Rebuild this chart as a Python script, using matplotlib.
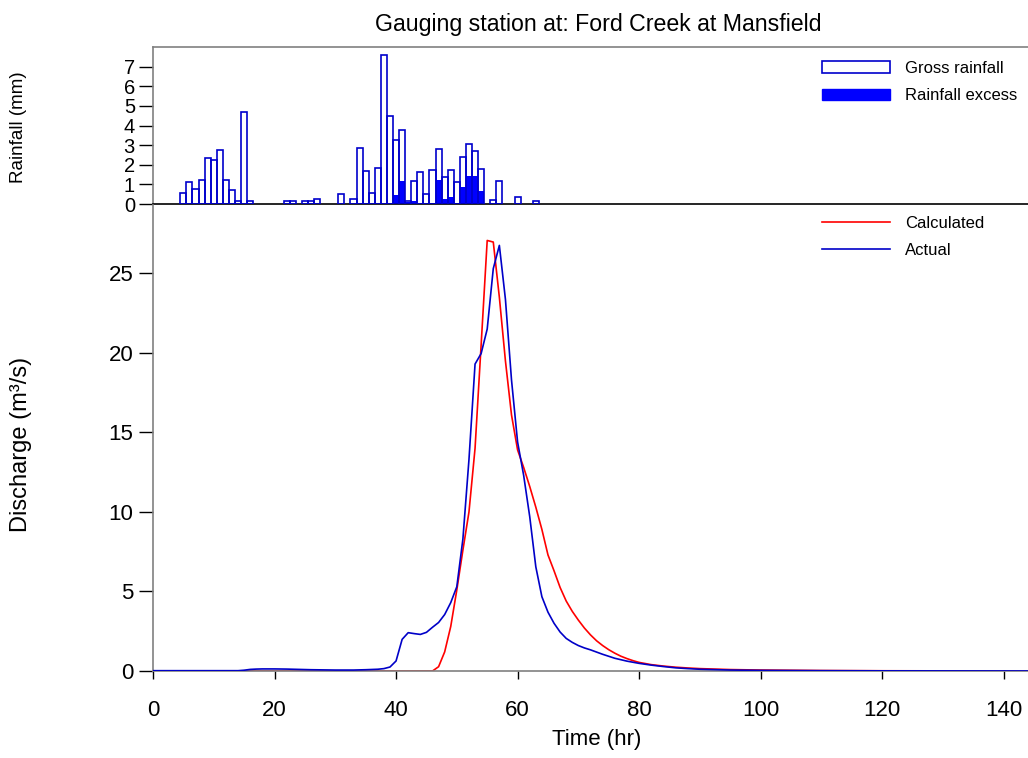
import matplotlib
matplotlib.use('Agg')
import matplotlib.pyplot as plt
from matplotlib.patches import Patch

plt.rcParams['font.family'] = ['Liberation Sans', 'DejaVu Sans']

# ---------------- data ----------------
rain_hours = [5, 6, 7, 8, 9, 10, 11, 12, 13, 14, 15, 16,
              22, 23, 25, 26, 27, 31, 33,
              34, 35, 36, 37, 38, 39, 40, 41, 42, 43, 44, 45, 46, 47, 48, 49, 50, 51, 52, 53, 54,
              56, 57, 60, 63]
gross_rain = [0.54, 1.10, 0.77, 1.24, 2.33, 2.23, 2.74, 1.24, 0.70, 0.14, 4.71, 0.14,
              0.15, 0.15, 0.14, 0.14, 0.24, 0.49, 0.24,
              2.84, 1.67, 0.58, 1.84, 7.57, 4.47, 3.25, 3.78, 0.15, 1.16, 1.62, 0.49, 1.73, 2.81,
              1.36, 1.72, 1.10, 2.40, 3.06, 2.69, 1.79,
              0.20, 1.16, 0.37, 0.15]
excess_hours = [40, 41, 42, 43, 46, 47, 48, 49, 50, 51, 52, 53, 54]
excess_rain = [0.48, 1.16, 0.10, 0.17, 0.05, 1.21, 0.27, 0.37, 0.07, 0.88, 1.45, 1.45, 0.68]

actual_t = [0, 14, 15, 16, 17, 18, 20, 22, 24, 26, 28, 30, 33, 35, 37, 38, 39, 40, 41, 42,
            43, 44, 45, 46, 47, 48, 49, 50, 51, 52, 53, 54, 55, 56, 57, 58, 59, 60, 61, 62,
            63, 64, 65, 66, 67, 68, 69, 70, 71, 72, 74, 76, 78, 80, 82, 84, 86, 88, 90, 95,
            100, 110, 120, 144]
actual_q = [0.02, 0.02, 0.05, 0.10, 0.12, 0.13, 0.13, 0.12, 0.10, 0.08, 0.07, 0.06, 0.06, 0.08,
            0.11, 0.15, 0.25, 0.63, 1.99, 2.41, 2.35, 2.30, 2.43, 2.75, 3.05, 3.55, 4.30, 5.30,
            8.30, 13.3, 19.3, 19.96, 21.5, 25.3, 26.76, 23.37, 18.3, 14.4, 12.3, 9.7, 6.55, 4.67,
            3.7, 3.0, 2.45, 2.05, 1.8, 1.6, 1.45, 1.33, 1.05, 0.80, 0.62, 0.48, 0.37, 0.28, 0.20,
            0.15, 0.11, 0.06, 0.04, 0.02, 0.01, 0.0]

calc_t = [0, 46, 47, 48, 49, 50, 51, 52, 53, 54, 55, 56, 57, 58, 59, 60, 61, 62, 63, 64, 65,
          66, 67, 68, 69, 70, 71, 72, 73, 74, 75, 76, 77, 78, 79, 80, 82, 84, 86, 88, 90, 95,
          100, 110, 120, 144]
calc_q = [0, 0, 0.27, 1.2, 2.8, 5.1, 7.6, 10.0, 14.0, 20.5, 27.07, 26.97, 23.5, 19.5, 16.1,
          13.9, 12.8, 11.6, 10.3, 8.9, 7.3, 6.3, 5.25, 4.4, 3.75, 3.2, 2.7, 2.27, 1.9, 1.6, 1.34,
          1.12, 0.93, 0.78, 0.65, 0.54, 0.40, 0.31, 0.24, 0.19, 0.15, 0.09, 0.06, 0.03, 0.015, 0.0]

rain_ticks = [0, 1, 2, 3, 4, 5, 6, 7]
q_ticks = [0, 5, 10, 15, 20, 25]
t_ticks = [0, 20, 40, 60, 80, 100, 120, 140]

EDGE = '#0000CC'
FILL = '#0000FF'
RED = '#FF0000'
BLUE = '#0000C8'
GRAY = '#808080'

W, H = 1028, 758
fig = plt.figure(figsize=(W / 100, H / 100), dpi=100)
ax_r = fig.add_axes([153 / W, 1 - 204 / H, 875 / W, 157 / H])
ax = fig.add_axes([153 / W, 1 - 671 / H, 875 / W, 466 / H])

# ---------------- rainfall ----------------
ax_r.bar(rain_hours, gross_rain, width=1.0, facecolor='white', edgecolor='none', zorder=1)
ax_r.bar(excess_hours, excess_rain, width=1.0, facecolor=FILL, edgecolor='none', zorder=2)
ax_r.bar(rain_hours, gross_rain, width=1.0, fill=False, edgecolor=EDGE, linewidth=1.2, zorder=3)
ax_r.set_xlim(0, 144)
ax_r.set_ylim(0, 8)
ax_r.set_yticks(rain_ticks)
ax_r.set_xticks([])
ax_r.tick_params(axis='y', labelsize=14.5, length=10, width=1, direction='out', pad=3)
ax_r.spines['right'].set_visible(False)
ax_r.spines['top'].set_color(GRAY)
ax_r.spines['left'].set_color(GRAY)
ax_r.spines['bottom'].set_color('black')
for s in ax_r.spines.values():
    s.set_linewidth(1.2)

ax_r.legend(handles=[Patch(facecolor='white', edgecolor=EDGE, linewidth=1.2),
                     Patch(facecolor=FILL, edgecolor=FILL)],
            labels=['Gross rainfall', 'Rainfall excess'],
            loc='upper left', bbox_to_anchor=(822 / W, 1 - 61 / H),
            bbox_transform=fig.transFigure, frameon=False, fontsize=12,
            borderpad=0, borderaxespad=0, handlelength=4.1, handleheight=0.7,
            handletextpad=0.9, labelspacing=0.74)

# ---------------- hydrograph ----------------
ax.plot(calc_t, calc_q, color=RED, linewidth=1.2, label='Calculated', zorder=2)
ax.plot(actual_t, actual_q, color=BLUE, linewidth=1.2, label='Actual', zorder=3)
ax.set_xlim(0, 144)
ax.set_ylim(0, 29.3)
ax.set_xticks(t_ticks)
ax.set_yticks(q_ticks)
ax.tick_params(axis='y', labelsize=16, length=10, width=1, direction='out', pad=4)
ax.tick_params(axis='x', labelsize=16, length=6, width=1, direction='out', pad=15)
ax.spines['top'].set_visible(False)
ax.spines['right'].set_visible(False)
ax.spines['left'].set_color(GRAY)
ax.spines['bottom'].set_color(GRAY)
for s in ['left', 'bottom']:
    ax.spines[s].set_linewidth(1.2)

ax.legend(loc='upper left', bbox_to_anchor=(822 / W, 1 - 216 / H),
          bbox_transform=fig.transFigure, frameon=False, fontsize=12,
          borderpad=0, borderaxespad=0, handlelength=4.1,
          handletextpad=0.9, labelspacing=0.74)

# ---------------- texts ----------------
fig.text(598 / W, 1 - 25 / H, 'Gauging station at: Ford Creek at Mansfield',
         ha='center', va='center', fontsize=16.7)
fig.text(597 / W, 1 - 739 / H, 'Time (hr)', ha='center', va='center', fontsize=16)
fig.text(19 / W, 1 - 127 / H, 'Rainfall (mm)', ha='center', va='center',
         rotation=90, fontsize=13.5)
fig.text(21 / W, 1 - 444 / H, 'Discharge (m³/s)', ha='center', va='center',
         rotation=90, fontsize=17)

fig.savefig('out.png', dpi=100)
